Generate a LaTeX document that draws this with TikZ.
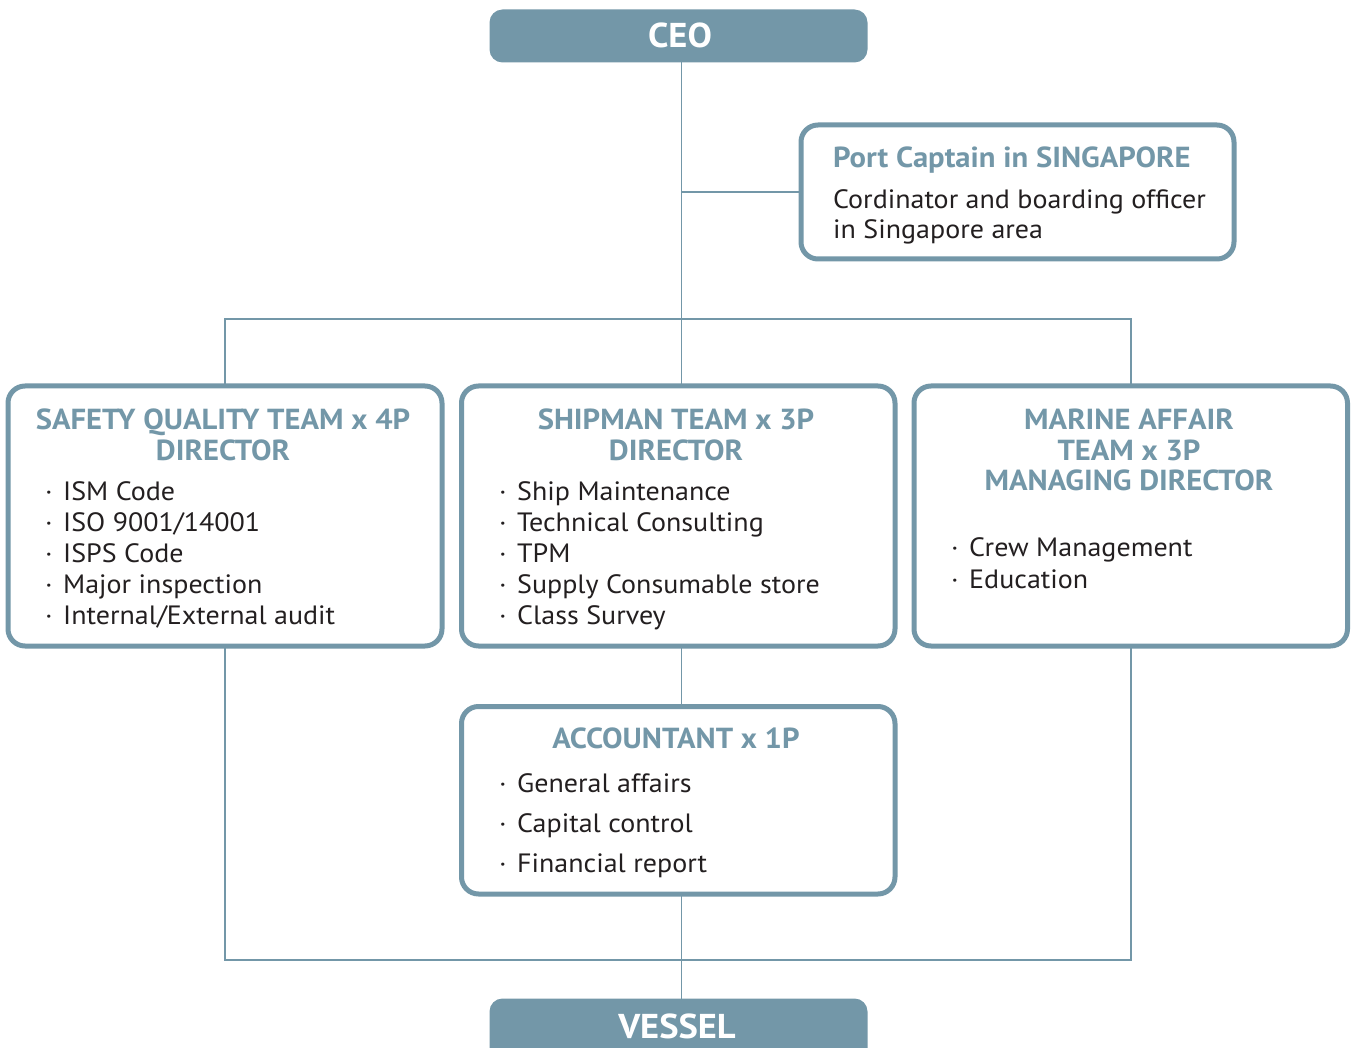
\documentclass[tikz,border=0pt]{standalone}
\usepackage{fontspec}
\setmainfont{PT Sans}[FakeStretch=1.057]
\definecolor{slate}{HTML}{7397A8}
\definecolor{ink}{HTML}{231F20}
\begin{document}
\begin{tikzpicture}[x=1pt,y=-1pt,
  box/.style={draw=slate, line width=5pt, rounded corners=17pt, fill=white, inner sep=0pt, outer sep=0pt, anchor=north west},
  topbox/.style={fill=slate, rounded corners=13pt, inner sep=0pt, outer sep=0pt, anchor=north west},
  toptext/.style={text=white, font=\fontsize{34.5}{36}\selectfont\bfseries, anchor=base, inner sep=0pt},
  conn/.style={draw=slate, line width=1.7pt},
  ttl/.style={text=slate, font=\fontsize{29}{31}\selectfont\bfseries, anchor=base, inner sep=0pt},
  ptl/.style={text=slate, font=\fontsize{29}{31}\selectfont\bfseries, anchor=base west, inner sep=0pt},
  itm/.style={text=ink, font=\fontsize{26.5}{31}\selectfont, anchor=base west, inner sep=0pt}]
\useasboundingbox (0,0) rectangle (1353,1048);
\clip (0,0) rectangle (1353,1048);
% connector junctions
\coordinate (j1) at (681.5,319);
\coordinate (j2) at (681.5,960);
% boxes (shapes only)
\node[topbox, minimum width=378pt, minimum height=53pt] (ceo) at (489.5,9.5) {};
\node[topbox, minimum width=378pt, minimum height=70pt] (ves) at (489.5,998.5) {};
\node[box, minimum width=433pt, minimum height=134pt] (port) at (801,125) {};
\node[box, minimum width=434pt, minimum height=260pt] (safe) at (8,386) {};
\node[box, minimum width=433.5pt, minimum height=260pt] (ship) at (461.5,386) {};
\node[box, minimum width=433.5pt, minimum height=260pt] (mar) at (914,386) {};
\node[box, minimum width=433.5pt, minimum height=187.5pt] (acc) at (461.5,706.5) {};
% connectors
\draw[conn] (ceo.south -| j1) -- (ship.north -| j1);
\draw[conn] (j1 |- port.west) -- (port.west);
\draw[conn] (safe.north) |- (j1) -| (mar.north);
\draw[conn] (ship.south -| j1) -- (acc.north -| j1);
\draw[conn] (safe.south) |- (j2) -| (mar.south);
\draw[conn] (acc.south -| j1) -- (ves.north -| j1);
% top / bottom labels
\node[toptext] (ceot) at (680,48) {CEO};
\node[toptext] (vest) at (677,1038) {VESSEL};
% port captain
\node[ptl] (pt1) at (833,168) {Port Captain in SINGAPORE};
\node[itm] (pt2) at (833,209) {Cordinator and boarding officer};
\node[itm] (pt3) at (833,239) {in Singapore area};
% safety
\node[ttl] (st1) at (223,430) {SAFETY QUALITY TEAM x 4P};
\node[ttl] (st2) at (223,461) {DIRECTOR};
\foreach \t [count=\i from 0] in {ISM Code, ISO 9001/14001, ISPS Code, Major inspection, Internal/External audit}
  \node[itm] (si\i) at (45,501+30.8*\i) {\makebox[18pt][l]{·}\t};
% shipman
\node[ttl] (ht1) at (676,430) {SHIPMAN TEAM x 3P};
\node[ttl] (ht2) at (676,461) {DIRECTOR};
\foreach \t [count=\i from 0] in {Ship Maintenance, Technical Consulting, TPM, Supply Consumable store, Class Survey}
  \node[itm] (hi\i) at (499,501+30.8*\i) {\makebox[18pt][l]{·}\t};
% marine
\node[ttl] (mt1) at (1129,430) {MARINE AFFAIR};
\node[ttl] (mt2) at (1129,461) {TEAM x 3P};
\node[ttl] (mt3) at (1129,491) {MANAGING DIRECTOR};
\foreach \t [count=\i from 0] in {Crew Management, Education}
  \node[itm] (mi\i) at (951,557+31*\i) {\makebox[18pt][l]{·}\t};
% accountant
\node[ttl] (at1) at (676,748) {ACCOUNTANT x 1P};
\foreach \t [count=\i from 0] in {General affairs, Capital control, Financial report}
  \node[itm] (ai\i) at (499,792+40*\i) {\makebox[18pt][l]{·}\t};
\end{tikzpicture}
\end{document}
